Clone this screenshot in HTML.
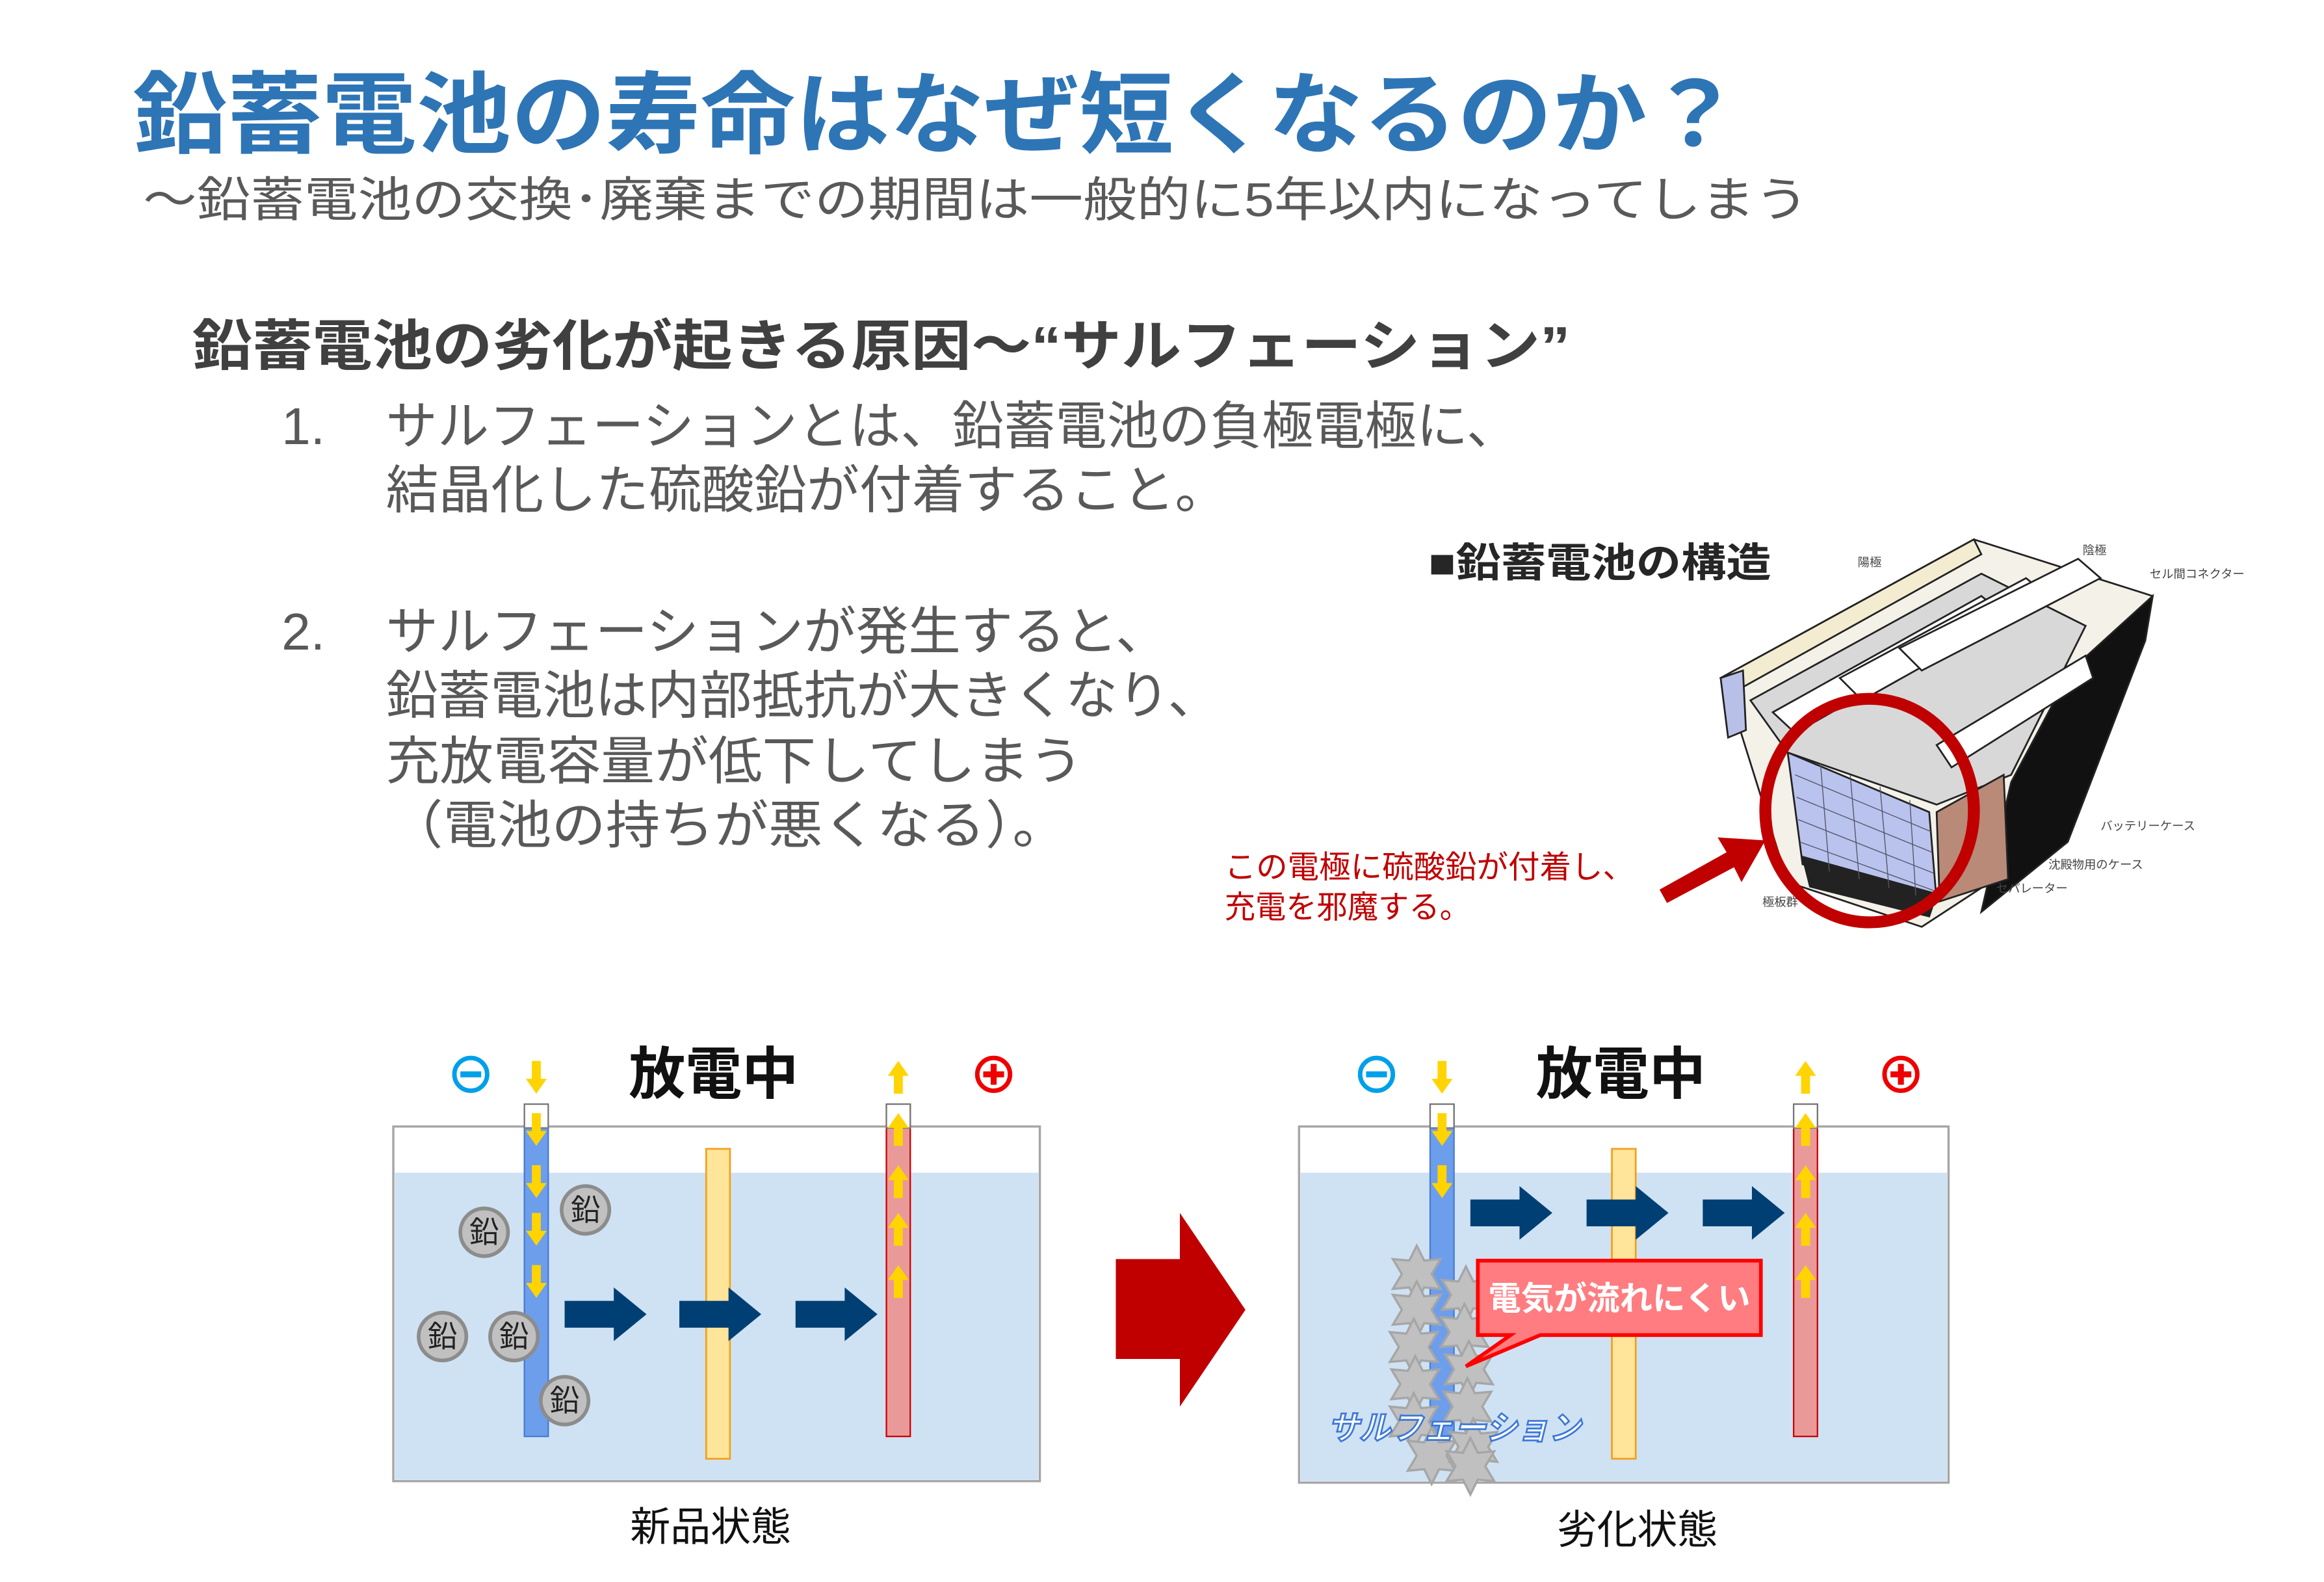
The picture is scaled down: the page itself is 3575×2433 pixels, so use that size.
<!DOCTYPE html>
<html><head><meta charset="utf-8"><style>
html,body{margin:0;padding:0;background:#fff;}
svg{display:block;}
text{font-family:"Liberation Sans","Noto Sans CJK JP",sans-serif;}
</style></head><body>
<svg width="3575" height="2433" viewBox="0 0 1560 1061.7" xmlns="http://www.w3.org/2000/svg">
<defs>
<path id="star" d="M0,-19 L5,-9 L16,-10 L10,0 L16,10 L5,9 L0,19 L-5,9 L-16,10 L-10,0 L-16,-10 L-5,-9 Z" fill="#c0c0c0" stroke="#a6a6a6" stroke-width="1.5"/>
<path id="barr" d="M0,-9 L33,-9 L33,-18 L55,0 L33,18 L33,9 L0,9 Z" fill="#003f74"/>
<path id="yd" d="M-3,0 L3,0 L3,12 L7,12 L0,22 L-7,12 L-3,12 Z" fill="#ffd400"/>
<path id="yu" d="M-3,22 L3,22 L3,10 L7,10 L0,0 L-7,10 L-3,10 Z" fill="#ffd400"/>
</defs>
<rect width="1560" height="1062" fill="#fff"/>
<text x="89" y="98" font-size="60" font-weight="bold" fill="#2e75b6" textLength="1080" lengthAdjust="spacingAndGlyphs">鉛蓄電池の寿命はなぜ短くなるのか？</text>
<text x="96" y="145" font-size="32" fill="#595959" textLength="1118" lengthAdjust="spacingAndGlyphs">～鉛蓄電池の交換･廃棄までの期間は一般的に5年以内になってしまう</text>
<text x="129" y="245" font-size="37" font-weight="bold" fill="#404040" textLength="925" lengthAdjust="spacingAndGlyphs">鉛蓄電池の劣化が起きる原因～“サルフェーション”</text>
<g font-size="35" fill="#595959">
<text x="189" y="298">1.</text>
<text x="259" y="298" textLength="760" lengthAdjust="spacingAndGlyphs">サルフェーションとは、鉛蓄電池の負極電極に、</text>
<text x="259" y="341" textLength="565" lengthAdjust="spacingAndGlyphs">結晶化した硫酸鉛が付着すること。</text>
<text x="189" y="436">2.</text>
<text x="259" y="436" textLength="525" lengthAdjust="spacingAndGlyphs">サルフェーションが発生すると、</text>
<text x="259" y="479" textLength="560" lengthAdjust="spacingAndGlyphs">鉛蓄電池は内部抵抗が大きくなり、</text>
<text x="259" y="523" textLength="468" lengthAdjust="spacingAndGlyphs">充放電容量が低下してしまう</text>
<text x="261" y="566" textLength="455" lengthAdjust="spacingAndGlyphs">（電池の持ちが悪くなる）。</text>
</g>
<text x="959" y="387" font-size="27" font-weight="bold" fill="#262626" textLength="230" lengthAdjust="spacingAndGlyphs">■鉛蓄電池の構造</text>
<!-- Battery -->
<g stroke="#222" stroke-width="1.2">
<polygon points="1155,455 1325,362 1445,400 1440,430 1385,560 1290,622 1200,592 1165,480" fill="#f4f1e8"/>
<polygon points="1390,450 1445,400 1440,430 1388,565 1330,612 1350,525" fill="#111"/>
<polygon points="1155,455 1325,362 1330,372 1163,465" fill="#f3ecd0"/>
<polygon points="1155,455 1170,450 1172,490 1160,495" fill="#b8c0e8"/>
<polygon points="1175,470 1330,385 1400,420 1350,520 1300,540 1200,505" fill="#d8d8d8"/>
<g fill="#fff">
<polygon points="1190,478 1330,400 1345,412 1205,492"/>
<polygon points="1235,455 1360,388 1375,400 1250,470"/>
<polygon points="1275,435 1395,375 1410,388 1290,450"/>
<polygon points="1300,500 1400,440 1405,455 1310,515"/>
</g>
<polygon points="1200,505 1295,545 1300,605 1210,580" fill="#b9c3ee"/>
<polygon points="1300,545 1345,520 1348,590 1302,605" fill="#b98a78"/>
<polygon points="1210,575 1300,600 1295,615 1215,595" fill="#222"/>
</g>
<g stroke="#556" stroke-width="0.6">
<line x1="1205" y1="520" x2="1296" y2="558"/><line x1="1206" y1="535" x2="1297" y2="572"/><line x1="1207" y1="550" x2="1298" y2="586"/><line x1="1208" y1="565" x2="1299" y2="598"/>
<line x1="1222" y1="512" x2="1228" y2="585"/><line x1="1242" y1="520" x2="1248" y2="590"/><line x1="1262" y1="528" x2="1268" y2="596"/><line x1="1282" y1="537" x2="1286" y2="601"/>
</g>
<g font-size="8" fill="#444">
<text x="1247" y="380">陽極</text><text x="1398" y="372">陰極</text>
<text x="1443" y="388">セル間コネクター</text>
<text x="1410" y="557">バッテリーケース</text>
<text x="1375" y="583">沈殿物用のケース</text>
<text x="1340" y="599">セパレーター</text>
<text x="1183" y="608">極板群</text>
</g>
<ellipse cx="1255" cy="544" rx="70" ry="75" fill="none" stroke="#c00000" stroke-width="8"/>
<path d="M1114,597 L1159,572 L1153,562 L1185,564 L1169,592 L1164,582 L1119,606 Z" fill="#c00000"/>
<text x="822" y="589" font-size="21" fill="#c00000" textLength="275" lengthAdjust="spacingAndGlyphs">この電極に硫酸鉛が付着し、</text>
<text x="822" y="616" font-size="21" fill="#c00000" textLength="165" lengthAdjust="spacingAndGlyphs">充電を邪魔する。</text>

<!-- Left diagram -->
<rect x="264" y="756" width="434" height="238" fill="#fff" stroke="#a6a6a6" stroke-width="1.5"/>
<rect x="265" y="787" width="432" height="206" fill="#cfe2f3"/>
<rect x="352" y="741" width="16" height="223" fill="#6d9eeb" stroke="#4a7bd0" stroke-width="1"/>
<rect x="352" y="741" width="16" height="16" fill="#fff" stroke="#777" stroke-width="1"/>
<rect x="474" y="771" width="16" height="208" fill="#ffe599" stroke="#f4a020" stroke-width="1.2"/>
<rect x="595" y="741" width="16" height="223" fill="#ea9999" stroke="#cc0000" stroke-width="1"/>
<rect x="595" y="741" width="16" height="16" fill="#fff" stroke="#777" stroke-width="1"/>
<use href="#yd" x="360" y="712"/><use href="#yu" x="603" y="712"/>
<use href="#yd" x="360" y="747"/><use href="#yd" x="360" y="782"/><use href="#yd" x="360" y="814"/><use href="#yd" x="360" y="849"/>
<use href="#yu" x="603" y="747"/><use href="#yu" x="603" y="782"/><use href="#yu" x="603" y="814"/><use href="#yu" x="603" y="849"/>
<circle cx="316" cy="721" r="11" fill="#fff" stroke="#00a0e9" stroke-width="3"/><rect x="309" y="719" width="14" height="4" fill="#00a0e9"/>
<circle cx="667" cy="721" r="11" fill="#fff" stroke="#e00" stroke-width="3"/><rect x="660" y="719" width="14" height="4" fill="#e00"/><rect x="665" y="714" width="4" height="14" fill="#e00"/>
<text x="422" y="734" font-size="38" font-weight="bold" fill="#111" textLength="114" lengthAdjust="spacingAndGlyphs">放電中</text>
<use href="#barr" x="379" y="882"/><use href="#barr" x="456" y="882"/><use href="#barr" x="534" y="882"/>
<g fill="#c0c0c0" stroke="#8c8c8c" stroke-width="2.5">
<circle cx="325" cy="827" r="16"/><circle cx="393" cy="812" r="16"/><circle cx="297" cy="897" r="16"/><circle cx="345" cy="897" r="16"/><circle cx="379" cy="940" r="16"/>
</g>
<g font-size="20" fill="#222" text-anchor="middle">
<text x="325" y="834">鉛</text><text x="393" y="819">鉛</text><text x="297" y="904">鉛</text><text x="345" y="904">鉛</text><text x="379" y="947">鉛</text>
</g>
<text x="477" y="1034" font-size="27" fill="#111" text-anchor="middle">新品状態</text>

<path d="M749,845 L792,845 L792,814 L836,879 L792,944 L792,912 L749,912 Z" fill="#c00000"/>

<!-- Right diagram -->
<rect x="872" y="756" width="436" height="239" fill="#fff" stroke="#a6a6a6" stroke-width="1.5"/>
<rect x="873" y="787" width="434" height="207" fill="#cfe2f3"/>
<rect x="960" y="741" width="16" height="223" fill="#6d9eeb" stroke="#4a7bd0" stroke-width="1"/>
<rect x="960" y="741" width="16" height="16" fill="#fff" stroke="#777" stroke-width="1"/>
<rect x="1082" y="771" width="16" height="208" fill="#ffe599" stroke="#f4a020" stroke-width="1.2"/>
<rect x="1204" y="741" width="16" height="223" fill="#ea9999" stroke="#cc0000" stroke-width="1"/>
<rect x="1204" y="741" width="16" height="16" fill="#fff" stroke="#777" stroke-width="1"/>
<use href="#yd" x="968" y="712"/><use href="#yu" x="1212" y="712"/>
<use href="#yd" x="968" y="747"/><use href="#yd" x="968" y="782"/>
<use href="#yu" x="1212" y="747"/><use href="#yu" x="1212" y="782"/><use href="#yu" x="1212" y="814"/><use href="#yu" x="1212" y="849"/>
<circle cx="924" cy="721" r="11" fill="#fff" stroke="#00a0e9" stroke-width="3"/><rect x="917" y="719" width="14" height="4" fill="#00a0e9"/>
<circle cx="1276" cy="721" r="11" fill="#fff" stroke="#e00" stroke-width="3"/><rect x="1269" y="719" width="14" height="4" fill="#e00"/><rect x="1274" y="714" width="4" height="14" fill="#e00"/>
<text x="1031" y="734" font-size="38" font-weight="bold" fill="#111" textLength="114" lengthAdjust="spacingAndGlyphs">放電中</text>
<use href="#barr" x="987" y="814"/><use href="#barr" x="1065" y="814"/><use href="#barr" x="1143" y="814"/>
<g>
<use href="#star" x="951" y="855"/><use href="#star" x="951" y="879"/><use href="#star" x="949" y="904"/><use href="#star" x="950" y="929"/><use href="#star" x="949" y="954"/><use href="#star" x="961" y="977"/>
<use href="#star" x="984" y="869"/><use href="#star" x="983" y="894"/><use href="#star" x="986" y="919"/><use href="#star" x="985" y="944"/><use href="#star" x="989" y="971"/><use href="#star" x="987" y="984"/>
</g>
<path d="M992,846 L1182,846 L1182,896 L1034,896 L984,917 L1014,896 L992,896 Z" fill="#ff7c80" stroke="#ff0000" stroke-width="2.5"/>
<text x="999" y="879" font-size="22" font-weight="bold" fill="#fff" textLength="176" lengthAdjust="spacingAndGlyphs">電気が流れにくい</text>
<text x="891" y="966" font-size="22" font-style="italic" font-weight="bold" fill="#fff" stroke="#3c78d8" stroke-width="1.2" textLength="170" lengthAdjust="spacingAndGlyphs">サルフェーション</text>
<text x="1099" y="1036" font-size="27" fill="#111" text-anchor="middle">劣化状態</text>
</svg>
</body></html>
